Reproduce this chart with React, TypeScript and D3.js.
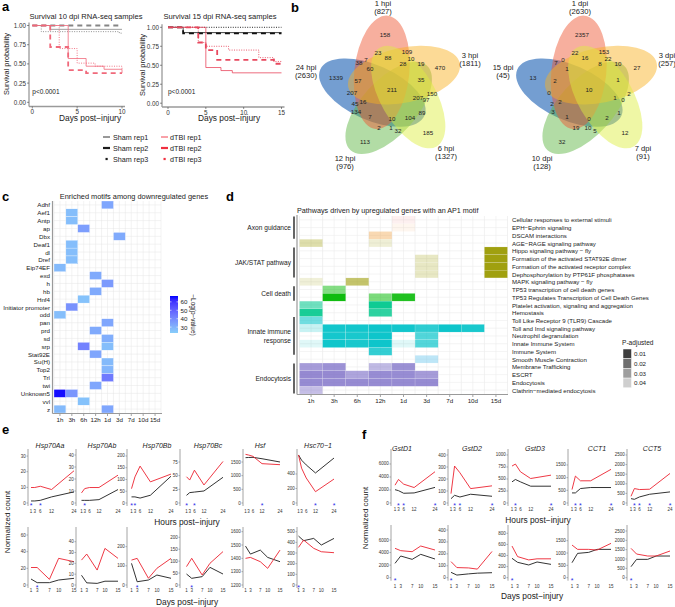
import React from 'react';
import * as d3 from 'd3';

const FONT = "'Liberation Sans', Arial, Helvetica, sans-serif";
const RED = '#ec2330';
const BLACK = '#1c1c1c';
const AXIS = '#9a9a9a';
const DAYS_LABEL = 'Days post\u2212injury';
const HOURS_LABEL = 'Hours post\u2212injury';

/* ---------------- Panel a : survival ---------------- */
const survivalTicks = [0, 0.25, 0.5, 0.75, 1];
const daysTicks10 = [0, 5, 10];
const daysTicks15 = [0, 5, 10, 15];
const legendSham = ['Sham rep1', 'Sham rep2', 'Sham rep3'];
const legendTbi = ['dTBI rep1', 'dTBI rep2', 'dTBI rep3'];
const sham10 = [
  [[0, 1], [2, 0.95], [10, 0.95]],
  [[0, 1], [10, 1]],
  [[0, 1], [1, 0.92], [9.7, 0.9], [10, 0.9]],
];
const tbi10 = [
  [[0, 1], [4, 0.57], [6, 0.47], [8, 0.43], [10, 0.38]],
  [[0, 1], [2, 0.72], [4, 0.42], [6, 0.38], [10, 0.38]],
  [[0, 1], [3, 0.7], [5, 0.51], [7, 0.47], [10, 0.42]],
];
const sham15 = [
  [[0, 1], [2, 0.93], [15, 0.93]],
  [[0, 1], [2, 0.92], [15, 0.92]],
  [[0, 1], [15, 1]],
];
const tbi15 = [
  [[0, 1], [5, 0.47], [7, 0.43], [8.5, 0.4], [15, 0.4]],
  [[0, 1], [4, 0.8], [5, 0.7], [6.5, 0.57], [14, 0.52], [15, 0.52]],
  [[0, 1], [4, 0.8], [5, 0.75], [8, 0.7], [12, 0.6], [14, 0.55], [15, 0.55]],
];
const repStyles = [
  { w: 0.8, dash: undefined },
  { w: 1.8, dash: '5 4' },
  { w: 0.9, dash: '1 1.4' },
];

/* ---------------- Panel b : venn ---------------- */
const hpiSets = ['1 hpi', '3 hpi', '6 hpi', '12 hpi', '24 hpi'];
const hpiTotals = [827, 1811, 1327, 976, 2630];
const hpiCounts = [158, 23, 88, 109, 10, 38, 7, 60, 28, 19, 470, 1339, 57, 35, 211, 207, 207, 97, 150, 45, 16, 134, 7, 10, 104, 89, 2, 1, 32, 185, 113];
const dpiSets = ['1 dpi', '3 dpi', '7 dpi', '10 dpi', '15 dpi'];
const dpiTotals = [2630, 257, 91, 128, 45];
const dpiCounts = [2357, 22, 16, 153, 22, 7, 0, 1, 8, 10, 27, 13, 2, 1, 10, 0, 1, 0, 2, 2, 2, 3, 1, 0, 2, 1, 19, 10, 5, 12, 32];
// layout: region label offsets from venn centre (px)
const vennRegionOffsets = [
  [-6, -55], [-13, -37], [-3, -32], [16, -38], [20, -31], [-32, -27], [-25, -30], [-21, -21], [12, -26], [30, -26],
  [49, -22], [-55, -12], [-33, -9], [30, -10], [1, 0], [-39, 3], [27, 8], [35, 10], [41, 4], [-36, 14],
  [-28, 12], [-35, 22], [-21, 27], [1, 29], [19, 28], [31, 23], [-12, 38], [0, 38], [7, 41], [37, 43], [-26, 52],
];
const vennSetOffsets = [[-8, -86], [79, -34], [55, 59], [-46, 69], [-85, -22]];
const vennColors = ['#EE5530', '#F8B020', '#DDEE40', '#5CB540', '#1058B0'];
const vennOpacity = [0.47, 0.47, 0.47, 0.47, 0.58];
const vennDrawOrder = [4, 3, 0, 1, 2];

/* ---------------- Panel c : motifs ---------------- */
const motifs = ['Adhf', 'Aef1', 'Antp', 'ap', 'Dbx', 'Deaf1', 'dl', 'Dref', 'Eip74EF', 'exd', 'h', 'hb', 'Hnf4', 'Initiator promoter', 'odd', 'pan', 'prd', 'sd', 'srp', 'Stat92E', 'Su(H)', 'Top2', 'Trl', 'twi', 'Unknown5', 'vvl', 'z'];
const timepoints = ['1h', '3h', '6h', '12h', '1d', '3d', '7d', '10d', '15d'];
const motifHits = [
  ['Adhf', '1d', 33], ['Aef1', '3h', 27], ['Antp', '3h', 27], ['ap', '6h', 35], ['Dbx', '3d', 32],
  ['Deaf1', '3h', 27], ['dl', '3h', 27], ['Dref', '3h', 27], ['Eip74EF', '1h', 28], ['exd', '12h', 32],
  ['h', '1d', 36], ['hb', '12h', 32], ['Hnf4', '6h', 26], ['Initiator promoter', '3h', 38], ['odd', '1h', 27],
  ['pan', '1d', 33], ['prd', '12h', 32], ['sd', '1d', 31], ['srp', '6h', 42], ['srp', '1d', 27],
  ['Stat92E', '12h', 33], ['Su(H)', '1d', 28], ['Top2', '1d', 29], ['Trl', '1d', 44], ['twi', '12h', 33],
  ['Unknown5', '1h', 66], ['Unknown5', '3h', 37], ['vvl', '6h', 26], ['z', '1h', 28], ['z', '1d', 33],
];
const motifLegendTicks = [30, 40, 50, 60];

/* ---------------- Panel d : pathways ---------------- */
const pathways = [
  'Cellular responses to external stimuli', 'EPH\u2212Ephrin signaling', 'DSCAM interactions', 'AGE\u2212RAGE signaling pathway',
  'Hippo signaling pathway \u2212 fly', 'Formation of the activated STAT92E dimer', 'Formation of the activated receptor complex',
  'Dephosphorylation by PTP61F phosphatases', 'MAPK signaling pathway \u2212 fly', 'TP53 transcription of cell death genes',
  'TP53 Regulates Transcription of Cell Death Genes', 'Platelet activation, signaling and aggregation', 'Hemostasis',
  'Toll Like Receptor 9 (TLR9) Cascade', 'Toll and Imd signaling pathway', 'Neutrophil degranulation', 'Innate Immune System',
  'Immune System', 'Smooth Muscle Contraction', 'Membrane Trafficking', 'ESCRT', 'Endocytosis', 'Clathrin\u2212mediated endocytosis',
];
const pathwayHue = ['#F08080', '#F4A460', '#F0A040', '#9A9A00', '#9A9A00', '#9A9A00', '#9A9A00', '#9A9A00', '#9A9A00', '#00B800', '#00B800', '#00C88C', '#00C88C', '#00C2C8', '#00C2C8', '#00C2C8', '#00C2C8', '#00C2C8', '#5BC0EB', '#7A6CC6', '#7A6CC6', '#7A6CC6', '#7A6CC6'];
const pathwayHits = [
  [0, '1d', 0.0437], [1, '1d', 0.0447], [2, '12h', 0.029], [3, '1h', 0.0326], [3, '12h', 0.0416],
  [4, '15d', 0.0005], [5, '3d', 0.0379], [5, '15d', 0.0005], [6, '3d', 0.0379], [6, '15d', 0.0005],
  [7, '3d', 0.0379], [7, '15d', 0.0005], [8, '1h', 0.042], [8, '6h', 0.0195], [9, '3h', 0.0247],
  [10, '3h', 0.0005], [10, '12h', 0.023], [10, '1d', 0.0042], [11, '1h', 0.0205], [11, '12h', 0.0005],
  [12, '1h', 0.0026], [12, '12h', 0.0068], [13, '1h', 0.0205],
  [14, '1h', 0.0384], [14, '3h', 0.001], [14, '6h', 0.001], [14, '12h', 0.0003], [14, '1d', 0.001], [14, '3d', 0.0068], [14, '7d', 0.0003], [14, '10d', 0.0026],
  [15, '3h', 0.0016], [15, '6h', 0.0026], [15, '12h', 0.0003], [15, '3d', 0.0142],
  [16, '1h', 0.0437], [16, '3h', 0.0005], [16, '6h', 0.0026], [16, '12h', 0.0003], [16, '1d', 0.0437], [16, '3d', 0.0142],
  [17, '12h', 0.0079], [18, '3d', 0.029],
  [19, '1h', 0.0147], [19, '3h', 0.011], [19, '12h', 0.0253], [19, '1d', 0.0105],
  [20, '1h', 0.0079], [20, '3h', 0.0079], [20, '6h', 0.0174], [20, '12h', 0.009], [20, '1d', 0.009], [20, '3d', 0.0142],
  [21, '1h', 0.0084], [21, '3h', 0.0084], [21, '6h', 0.0084], [21, '12h', 0.0084], [21, '1d', 0.0084], [21, '3d', 0.0084],
  [22, '1h', 0.0268],
];
const pathwayGroupNames = [['Axon guidance'], ['JAK/STAT pathway'], ['Cell death'], ['Innate immune', 'response'], ['Endocytosis']];
const pathwayGroupFirst = [0, 4, 9, 13, 19];
const pathwayGroupLast = [2, 7, 10, 17, 22];
const pLegend = [0.01, 0.02, 0.03, 0.04];

/* ---------------- Panels e/f : expression ---------------- */
const hours = [1, 3, 6, 12, 24];
const days = [1, 3, 7, 10, 15];
const hsGenes = ['Hsp70Aa', 'Hsp70Ab', 'Hsp70Bb', 'Hsp70Bc', 'Hsf', 'Hsc70\u22121'];
const hsShamHours = [[1.3, 1.3, 1.7, 3.9, 7.1], [2.2, 2.2, 2.2, 2.8, 11.2], [26, 26, 21, 33, 114], [14, 19, 20, 22, 47], [1659, 1665, 1670, 1620, 1500], [662, 590, 525, 414, 620]];
const hsTbiHours = [[9.9, 9.9, 10.7, 8.6, 20.6], [8.4, 12, 12.9, 12.9, 23.2], [61, 111, 157, 90, 123], [48, 42, 60, 33, 76], [1780, 1756, 1707, 1439, 1402], [662, 480, 345, 156, 330]];
const hsShamDays = [[7.2, 2.8, 2.8, 6, 8], [9, 2, 1.5, 3.5, 3.5], [113, 17, 26, 52, 35], [46, 28, 35, 74, 46], [1492, 1432, 1462, 1407, 1375], [459, 416, 437, 375, 437]];
const hsTbiDays = [[21, 21, 6.8, 32, 28], [23, 28.6, 13.8, 33.8, 24.6], [130, 139, 35, 87, 139], [77, 112, 42, 91, 140], [1400, 1407, 1375, 1325, 1462], [353, 422, 344, 312, 303]];
const hsStarsHours = [[1, 6], [3], [1, 3], [1, 6], [12], [12, 24]];
const hsStarsDays = [[3], [], [3], [3], [], [1]];
const hsTicksHours = [[0, 10, 20, 30], [0, 10, 20, 30, 40], [0, 50, 100, 150, 200], [0, 25, 50, 75], [0, 500, 1000, 1500], [0, 200, 400]];
const hsTicksDays = [[0, 20, 40, 60], [0, 10, 20, 30, 40], [0, 100, 200], [0, 50, 100, 150, 200], [1200, 1300, 1400, 1500, 1600], [0, 100, 200, 300, 400, 500]];
const hsLimitsHours = [[0, 32.6], [0, 42.5], [0, 217], [0, 93.3], [0, 1866], [0, 703]];
const hsLimitsDays = [[0, 66], [0, 50.8], [0, 287], [0, 230.6], [1200, 1612.7], [0, 516]];

const gstGenes = ['GstD1', 'GstD2', 'GstD3', 'CCT1', 'CCT5'];
const gstShamHours = [[2050, 1900, 1500, 1550, 2400], [36, 64, 50, 73, 56], [440, 490, 440, 350, 350], [398, 398, 571, 611, 611], [227, 192, 315, 455, 577]];
const gstTbiHours = [[2741, 3621, 2897, 2379, 4810], [78, 308, 252, 120, 143], [769, 811, 650, 510, 580], [531, 1062, 876, 876, 1328], [350, 752, 700, 717, 1538]];
const gstShamDays = [[2283, 3452, 2921, 3718, 2974], [45, 22, 32, 38, 42], [349, 277, 229, 283, 240], [608, 986, 1027, 1149, 1149], [589, 982, 982, 1161, 1161]];
const gstTbiDays = [[4673, 4302, 4142, 5045, 4408], [135, 85, 82, 72, 220], [570, 380, 320, 340, 340], [1324, 1149, 1149, 1122, 1392], [1571, 1268, 1161, 1161, 1429]];
const gstStarsHours = [[3, 6, 24], [3, 6, 24], [3, 24], [3, 6, 24], [3, 6, 12, 24]];
const gstStarsDays = [[1], [1], [1], [1], [1]];
const gstTicksHours = [[0, 2000, 4000, 6000], [0, 100, 200, 300, 400], [0, 250, 500, 750, 1000], [0, 500, 1000, 1500], [0, 500, 1000, 1500, 2000, 2500]];
const gstTicksDays = [[0, 2000, 4000, 6000], [0, 100, 200, 300, 400], [0, 200, 400, 600, 800], [0, 500, 1000, 1500], [0, 500, 1000, 1500, 2000, 2500]];
const gstLimitsHours = [[0, 7846], [0, 425], [0, 1062], [0, 2013], [0, 2656]];
const gstLimitsDays = [[0, 7910], [0, 417], [0, 895], [0, 2015], [0, 2661]];

// layout for the small multiples (px)
const eLayout = { axisX: [28, 76, 127, 180, 243, 297], x1: [31, 81.5, 131.5, 186.5, 245.5, 298.5], xEnd: [74, 118, 171, 223, 280, 334], titleX: [50, 102, 157, 208, 260, 318] };
const fLayout = { axisX: [391, 448, 508, 568, 627], x1: [395, 451, 512, 572, 631], xEnd: [435, 492, 551, 611, 670], titleX: [402, 472, 535, 597, 652] };

/* ====================================================== */

function SurvivalPlot({ xMax, xTicks, xRange, yRange, axisX, axisY, sham, tbi, shamColor, tbiColor }: any) {
  const x = d3.scaleLinear().domain([0, xMax]).range(xRange);
  const y = d3.scaleLinear().domain([0, 1]).range(yRange);
  const line = d3.line<number[]>().x((d) => x(d[0])).y((d) => y(d[1])).curve(d3.curveStepAfter);
  return (
    <g>
      {sham.map((s: number[][], i: number) => (
        <path key={'s' + i} d={line(s) || ''} fill="none" stroke={shamColor} strokeWidth={repStyles[i].w} strokeDasharray={repStyles[i].dash} />
      ))}
      {tbi.map((s: number[][], i: number) => (
        <path key={'t' + i} d={line(s) || ''} fill="none" stroke={tbiColor} strokeWidth={repStyles[i].w} strokeDasharray={repStyles[i].dash} />
      ))}
      <line x1={axisX} x2={axisX} y1={yRange[1] - 3} y2={axisY} stroke={AXIS} strokeWidth={1.3} />
      <line x1={axisX} x2={xRange[1] + 3} y1={axisY} y2={axisY} stroke={AXIS} strokeWidth={1.3} />
      {survivalTicks.map((t) => (
        <g key={'y' + t}>
          <line x1={axisX - 2} x2={axisX} y1={y(t)} y2={y(t)} stroke="#444" strokeWidth={0.6} />
          <text x={axisX - 3} y={y(t)} fontSize={6.3} textAnchor="end" dominantBaseline="central" fill="#333">{d3.format('.2f')(t)}</text>
        </g>
      ))}
      {xTicks.map((t: number) => (
        <g key={'x' + t}>
          <line x1={x(t)} x2={x(t)} y1={axisY} y2={axisY + 2} stroke="#444" strokeWidth={0.6} />
          <text x={x(t)} y={axisY + 5} fontSize={6.3} textAnchor="middle" dominantBaseline="central" fill="#333">{t}</text>
        </g>
      ))}
      <text x={xRange[0]} y={91} fontSize={6.5} dominantBaseline="central" fill="#222">p&lt;0.0001</text>
    </g>
  );
}

function LegendKey({ x, y, i, color }: any) {
  if (i === 2) return <rect x={x + 2.5} y={y - 1.1} width={2.2} height={2.2} fill={color} />;
  return <line x1={x} x2={x + 7} y1={y} y2={y} stroke={color} strokeWidth={i === 1 ? 2.2 : 0.9} />;
}

function PanelA() {
  return (
    <g>
      <text x={2} y={11} fontSize={13} fontWeight="bold">a</text>
      <text x={86} y={16} fontSize={7.6} textAnchor="middle" dominantBaseline="central" fill="#222">Survival 10 dpi RNA-seq samples</text>
      <text x={220} y={16} fontSize={7.6} textAnchor="middle" dominantBaseline="central" fill="#222">Survival 15 dpi RNA-seq samples</text>
      <SurvivalPlot xMax={10} xTicks={daysTicks10} xRange={[32.3, 122]} yRange={[102.3, 25.5]} axisX={29} axisY={106.5} sham={sham10} tbi={tbi10} shamColor="#858585" tbiColor="#f0697b" />
      <SurvivalPlot xMax={15} xTicks={daysTicks15} xRange={[168, 281.5]} yRange={[103.2, 27.3]} axisX={162} axisY={107} sham={sham15} tbi={tbi15} shamColor="#111" tbiColor="#e8485e" />
      <text transform="translate(6,64) rotate(-90)" fontSize={7.4} textAnchor="middle" dominantBaseline="central" fill="#222">Survival probability</text>
      <text transform="translate(142,65) rotate(-90)" fontSize={7.4} textAnchor="middle" dominantBaseline="central" fill="#222">Survival probability</text>
      <text x={90} y={118} fontSize={8.4} textAnchor="middle" dominantBaseline="central" fill="#222">{DAYS_LABEL}</text>
      <text x={229} y={118} fontSize={8.4} textAnchor="middle" dominantBaseline="central" fill="#222">{DAYS_LABEL}</text>
      {legendSham.map((name, i) => (
        <g key={name}>
          <LegendKey x={103} y={137 + i * 11} i={i} color={BLACK} />
          <text x={113} y={137 + i * 11} fontSize={7.2} dominantBaseline="central" fill="#222">{name}</text>
        </g>
      ))}
      {legendTbi.map((name, i) => (
        <g key={name}>
          <LegendKey x={161} y={137 + i * 11} i={i} color="#f03040" />
          <text x={170} y={137 + i * 11} fontSize={7.2} dominantBaseline="central" fill="#222">{name}</text>
        </g>
      ))}
    </g>
  );
}

function Venn({ cx, cy, sets, totals, counts }: any) {
  const dist = 19, A = 57, B = 27.5;
  const ellipses = sets.map((_: string, i: number) => {
    const theta = 84 - 72 * i;
    const phi = ((theta + 35) * Math.PI) / 180;
    return { theta, ex: cx + dist * Math.cos(phi), ey: cy - dist * Math.sin(phi) };
  });
  return (
    <g>
      {vennDrawOrder.map((i: number) => {
        const e = ellipses[i];
        return <ellipse key={i} cx={e.ex} cy={e.ey} rx={A} ry={B} transform={`rotate(${-e.theta} ${e.ex} ${e.ey})`} fill={vennColors[i]} fillOpacity={vennOpacity[i]} />;
      })}
      {counts.map((c: number, i: number) => (
        <text key={i} x={cx + vennRegionOffsets[i][0]} y={cy + vennRegionOffsets[i][1]} fontSize={6.2} textAnchor="middle" dominantBaseline="central" fill="#222">{c}</text>
      ))}
      {sets.map((s: string, i: number) => (
        <g key={s}>
          <text x={cx + vennSetOffsets[i][0]} y={cy + vennSetOffsets[i][1]} fontSize={7.6} textAnchor="middle" dominantBaseline="central" fill="#222">{s}</text>
          <text x={cx + vennSetOffsets[i][0]} y={cy + vennSetOffsets[i][1] + 8.5} fontSize={7.6} textAnchor="middle" dominantBaseline="central" fill="#222">({totals[i]})</text>
        </g>
      ))}
    </g>
  );
}

function PanelB() {
  return (
    <g>
      <text x={291} y={12} fontSize={13} fontWeight="bold">b</text>
      <Venn cx={391} cy={89} sets={hpiSets} totals={hpiTotals} counts={hpiCounts} />
      <Venn cx={588} cy={89} sets={dpiSets} totals={dpiTotals} counts={dpiCounts} />
    </g>
  );
}

function PanelC() {
  const x = d3.scaleBand().domain(timepoints).range([54, 161]);
  const y = d3.scaleBand().domain(motifs).range([201, 413]);
  const color = d3.scaleLinear<string>().domain([23, 67]).range(['#87CEFA', '#0000FF']).interpolate(d3.interpolateLab);
  const ly = d3.scaleLinear().domain([23, 67]).range([333, 296]);
  return (
    <g>
      <text x={2} y={201} fontSize={13} fontWeight="bold">c</text>
      <text x={134} y={196.5} fontSize={7.4} textAnchor="middle" dominantBaseline="central" fill="#222">Enriched motifs among downregulated genes</text>
      <rect x={54} y={201} width={107} height={212} fill="#fff" />
      {timepoints.map((t) => (
        <line key={t} x1={x(t)! + x.bandwidth() / 2} x2={x(t)! + x.bandwidth() / 2} y1={201} y2={413} stroke="#ebebeb" strokeWidth={0.6} />
      ))}
      {motifs.map((m) => (
        <line key={m} x1={54} x2={161} y1={y(m)! + y.bandwidth() / 2} y2={y(m)! + y.bandwidth() / 2} stroke="#ebebeb" strokeWidth={0.6} />
      ))}
      {d3.range(timepoints.length + 1).map((i) => (
        <line key={'v' + i} x1={54 + i * x.bandwidth()} x2={54 + i * x.bandwidth()} y1={201} y2={413} stroke="#e0e0e0" strokeWidth={0.4} />
      ))}
      {motifHits.map(([m, t, v]: any, i) => (
        <rect key={i} x={x(t)} y={y(m)} width={x.bandwidth()} height={y.bandwidth()} fill={color(v)} stroke="#fff" strokeWidth={0.3} />
      ))}
      <line x1={52.5} x2={52.5} y1={201} y2={413.5} stroke={AXIS} strokeWidth={1.2} />
      <line x1={52.5} x2={162} y1={413.5} y2={413.5} stroke={AXIS} strokeWidth={1.2} />
      {motifs.map((m) => (
        <text key={m} x={50} y={y(m)! + y.bandwidth() / 2} fontSize={6.2} textAnchor="end" dominantBaseline="central" fill="#222">{m}</text>
      ))}
      {timepoints.map((t) => (
        <g key={t}>
          <line x1={x(t)! + x.bandwidth() / 2} x2={x(t)! + x.bandwidth() / 2} y1={414} y2={416} stroke="#444" strokeWidth={0.5} />
          <text x={x(t)! + x.bandwidth() / 2} y={419} fontSize={6.2} textAnchor="middle" dominantBaseline="central" fill="#222">{t}</text>
        </g>
      ))}
      <defs>
        <linearGradient id="motifGrad" x1="0" y1="1" x2="0" y2="0">
          {d3.range(0, 1.01, 0.1).map((f) => (
            <stop key={f} offset={f} stopColor={color(23 + f * 44)} />
          ))}
        </linearGradient>
      </defs>
      <rect x={170} y={296} width={8} height={37} fill="url(#motifGrad)" />
      {motifLegendTicks.map((t) => (
        <g key={t}>
          <line x1={170} x2={171.5} y1={ly(t)} y2={ly(t)} stroke="#fff" strokeWidth={0.6} />
          <line x1={176.5} x2={178} y1={ly(t)} y2={ly(t)} stroke="#fff" strokeWidth={0.6} />
          <text x={180.5} y={ly(t)} fontSize={6.2} dominantBaseline="central" fill="#222">{t}</text>
        </g>
      ))}
      <text transform="translate(193,315) rotate(90)" fontSize={6.4} textAnchor="middle" dominantBaseline="central" fill="#222">{'\u2212Log(p\u2212value)'}</text>
    </g>
  );
}

function PanelD() {
  const x = d3.scaleBand().domain(timepoints).range([299.5, 507.5]);
  const y = d3.scaleBand().domain(d3.range(pathways.length).map(String)).range([216, 394]);
  const alpha = d3.scaleLinear().domain([0, 0.05]).range([0.95, 0]).clamp(true);
  const rowMid = (i: number) => y(String(i))! + y.bandwidth() / 2;
  return (
    <g>
      <text x={226} y={201} fontSize={13} fontWeight="bold">d</text>
      <text x={297} y={210.5} fontSize={7.2} dominantBaseline="central" fill="#222">Pathways driven by upregulated genes with an AP1 motif</text>
      {timepoints.map((t) => (
        <line key={t} x1={x(t)! + x.bandwidth() / 2} x2={x(t)! + x.bandwidth() / 2} y1={216} y2={394} stroke="#ececec" strokeWidth={0.6} />
      ))}
      {d3.range(timepoints.length + 1).map((i) => (
        <line key={'v' + i} x1={299.5 + i * x.bandwidth()} x2={299.5 + i * x.bandwidth()} y1={216} y2={394} stroke="#e2e2e2" strokeWidth={0.5} />
      ))}
      {pathways.map((p, i) => (
        <line key={p} x1={299.5} x2={507.5} y1={rowMid(i)} y2={rowMid(i)} stroke="#ececec" strokeWidth={0.6} />
      ))}
      {pathwayHits.map(([r, t, p]: any, i) => (
        <rect key={i} x={x(t)} y={y(String(r))} width={x.bandwidth()} height={y.bandwidth()} fill={pathwayHue[r]} fillOpacity={alpha(p)} stroke="#fff" strokeOpacity={0.5} strokeWidth={0.3} />
      ))}
      <line x1={297} x2={297} y1={215} y2={394.5} stroke={AXIS} strokeWidth={1.2} />
      <line x1={297} x2={508} y1={394.5} y2={394.5} stroke={AXIS} strokeWidth={1.2} />
      {pathways.map((p, i) => (
        <text key={p} x={512} y={rowMid(i)} fontSize={6.1} dominantBaseline="central" fill="#222">{p}</text>
      ))}
      {timepoints.map((t) => (
        <g key={t}>
          <line x1={x(t)! + x.bandwidth() / 2} x2={x(t)! + x.bandwidth() / 2} y1={395} y2={397} stroke="#444" strokeWidth={0.5} />
          <text x={x(t)! + x.bandwidth() / 2} y={400.5} fontSize={6.2} textAnchor="middle" dominantBaseline="central" fill="#222">{t}</text>
        </g>
      ))}
      {pathwayGroupNames.map((names, g) => {
        const top = y(String(pathwayGroupFirst[g]))! + 0.5;
        const bot = y(String(pathwayGroupLast[g]))! + y.bandwidth() - 0.5;
        const mid = (top + bot) / 2;
        return (
          <g key={g}>
            <line x1={294} x2={294} y1={top} y2={bot} stroke="#111" strokeWidth={1.3} />
            {names.map((n, k) => (
              <text key={n} x={291} y={mid + (k - (names.length - 1) / 2) * 8.3} fontSize={6.6} textAnchor="end" dominantBaseline="central" fill="#222">{n}</text>
            ))}
          </g>
        );
      })}
      <text x={622} y={342} fontSize={6.6} dominantBaseline="central" fill="#222">P-adjusted</text>
      {pLegend.map((p, i) => (
        <g key={p}>
          <rect x={623} y={349 + i * 9.7} width={8.5} height={9.7} fill="#000" fillOpacity={alpha(p)} stroke="#fff" strokeWidth={0.5} />
          <text x={634} y={349 + i * 9.7 + 4.85} fontSize={6.2} dominantBaseline="central" fill="#222">{p}</text>
        </g>
      ))}
    </g>
  );
}

function MiniPlot({ axisX, x1, xEnd, xVals, yBase, yTop, limits, ticks, sham, tbi, stars, labelY }: any) {
  const x = d3.scaleLinear().domain([xVals[0], xVals[xVals.length - 1]]).range([x1, xEnd]);
  const y = d3.scaleLinear().domain(limits).range([yBase, yTop]);
  const line = d3.line<number>().x((_, i) => x(xVals[i])).y((v) => y(v));
  return (
    <g>
      <line x1={axisX} x2={axisX} y1={yTop - 3} y2={yBase + 3} stroke={AXIS} strokeWidth={0.9} />
      {ticks.map((t: number) => (
        <g key={t}>
          <line x1={axisX - 1.6} x2={axisX} y1={y(t)} y2={y(t)} stroke="#555" strokeWidth={0.4} />
          <text x={axisX - 2.3} y={y(t)} fontSize={4.5} textAnchor="end" dominantBaseline="central" fill="#333">{t}</text>
        </g>
      ))}
      {xVals.map((v: number) => (
        <text key={v} x={x(v)} y={labelY} fontSize={4.5} textAnchor="middle" dominantBaseline="central" fill="#333">{v}</text>
      ))}
      <path d={line(sham) || ''} fill="none" stroke={BLACK} strokeWidth={0.9} />
      <path d={line(tbi) || ''} fill="none" stroke={RED} strokeWidth={0.9} />
      {stars.map((s: number) => (
        <text key={s} x={x(s)} y={yBase + 2.4} fontSize={7} textAnchor="middle" dominantBaseline="central" fill="#2a2ae8">*</text>
      ))}
    </g>
  );
}

function PanelE() {
  return (
    <g>
      <text x={2} y={434} fontSize={13} fontWeight="bold">e</text>
      {hsGenes.map((g, i) => (
        <g key={g}>
          <text x={eLayout.titleX[i]} y={445} fontSize={7} fontStyle="italic" textAnchor="middle" dominantBaseline="central" fill="#222">{g}</text>
          <MiniPlot axisX={eLayout.axisX[i]} x1={eLayout.x1[i]} xEnd={eLayout.xEnd[i]} xVals={hours} yBase={503} yTop={452} limits={hsLimitsHours[i]} ticks={hsTicksHours[i]} sham={hsShamHours[i]} tbi={hsTbiHours[i]} stars={hsStarsHours[i]} labelY={511.5} />
          <MiniPlot axisX={eLayout.axisX[i]} x1={eLayout.x1[i]} xEnd={eLayout.xEnd[i]} xVals={days} yBase={585} yTop={530} limits={hsLimitsDays[i]} ticks={hsTicksDays[i]} sham={hsShamDays[i]} tbi={hsTbiDays[i]} stars={hsStarsDays[i]} labelY={590} />
        </g>
      ))}
      <text x={187} y={522} fontSize={8.4} textAnchor="middle" dominantBaseline="central" fill="#222">{HOURS_LABEL}</text>
      <text x={187} y={602} fontSize={8.4} textAnchor="middle" dominantBaseline="central" fill="#222">{DAYS_LABEL}</text>
      <text transform="translate(7,522) rotate(-90)" fontSize={8} textAnchor="middle" dominantBaseline="central" fill="#222">Normalized count</text>
    </g>
  );
}

function PanelF() {
  return (
    <g>
      <text x={362} y={439} fontSize={13} fontWeight="bold">f</text>
      {gstGenes.map((g, i) => (
        <g key={g}>
          <text x={fLayout.titleX[i]} y={448} fontSize={7} fontStyle="italic" textAnchor="middle" dominantBaseline="central" fill="#222">{g}</text>
          <MiniPlot axisX={fLayout.axisX[i]} x1={fLayout.x1[i]} xEnd={fLayout.xEnd[i]} xVals={hours} yBase={503} yTop={452} limits={gstLimitsHours[i]} ticks={gstTicksHours[i]} sham={gstShamHours[i]} tbi={gstTbiHours[i]} stars={gstStarsHours[i]} labelY={509.5} />
          <MiniPlot axisX={fLayout.axisX[i]} x1={fLayout.x1[i]} xEnd={fLayout.xEnd[i]} xVals={days} yBase={577.7} yTop={528} limits={gstLimitsDays[i]} ticks={gstTicksDays[i]} sham={gstShamDays[i]} tbi={gstTbiDays[i]} stars={gstStarsDays[i]} labelY={586} />
        </g>
      ))}
      <text x={538} y={520} fontSize={8.4} textAnchor="middle" dominantBaseline="central" fill="#222">{HOURS_LABEL}</text>
      <text x={532} y={595.5} fontSize={8.4} textAnchor="middle" dominantBaseline="central" fill="#222">{DAYS_LABEL}</text>
      <text transform="translate(365,518) rotate(-90)" fontSize={8} textAnchor="middle" dominantBaseline="central" fill="#222">Normalized count</text>
    </g>
  );
}

export default function App() {
  return (
    <svg width={675} height={607} viewBox="0 0 675 607" style={{ position: 'absolute', left: 0, top: 0, background: '#fff' }} fontFamily={FONT}>
      <rect width={675} height={607} fill="#fff" />
      <PanelA />
      <PanelB />
      <PanelC />
      <PanelD />
      <PanelE />
      <PanelF />
    </svg>
  );
}
